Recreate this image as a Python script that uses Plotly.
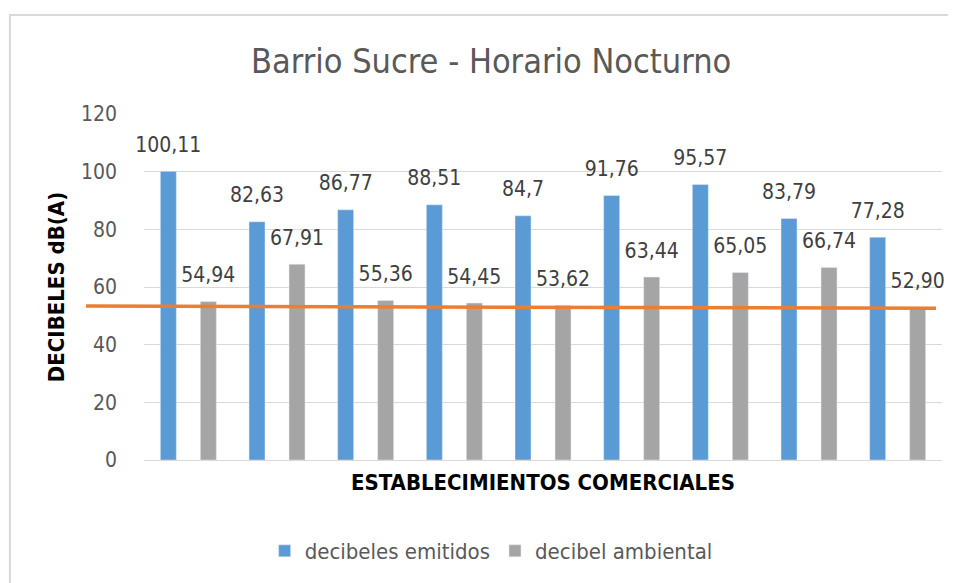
import plotly.graph_objects as go

categorias = ["1", "2", "3", "4", "5", "6", "7", "8", "9"]
emitidos = [100.11, 82.63, 86.77, 88.51, 84.7, 91.76, 95.57, 83.79, 77.28]
ambiental = [54.94, 67.91, 55.36, 54.45, 53.62, 63.44, 65.05, 66.74, 52.90]
emitidos_txt = ["100,11", "82,63", "86,77", "88,51", "84,7", "91,76", "95,57", "83,79", "77,28"]
ambiental_txt = ["54,94", "67,91", "55,36", "54,45", "53,62", "63,44", "65,05", "66,74", "52,90"]
linea_ref = [53.4, 52.6]
y_ticks = [0, 20, 40, 60, 80, 100, 120]

FONT = "DejaVu Sans Condensed, sans-serif"
BLUE = "#5B9BD5"
GRAY = "#A5A5A5"
ORANGE = "#ED7D31"

fig = go.Figure()
fig.add_trace(go.Bar(x=categorias, y=emitidos, name="decibeles emitidos",
                     marker=dict(color=BLUE), offsetgroup="a"))
fig.add_trace(go.Bar(x=categorias, y=ambiental, name="decibel ambiental",
                     marker=dict(color=GRAY), offsetgroup="b"))
# data labels
for vals, txt, og in [(emitidos, emitidos_txt, "a"), (ambiental, ambiental_txt, "b")]:
    fig.add_trace(go.Scatter(x=categorias, y=vals, text=txt, mode="markers+text",
                             textposition="top center", offsetgroup=og,
                             marker=dict(size=21, opacity=0, color="white"),
                             textfont=dict(family=FONT, size=21, color="#404040"),
                             showlegend=False, hoverinfo="skip", cliponaxis=False))

fig.update_layout(
    width=956, height=583,
    paper_bgcolor="white", plot_bgcolor="white",
    margin=dict(l=136, r=22, t=106, b=131, autoexpand=False),
    barmode="group", bargap=0.098, bargroupgap=0.6,
    scattermode="group", scattergap=0.098,
    font=dict(family=FONT, color="#595959"),
    title=dict(text="Barrio Sucre - Horario Nocturno", x=0.435, xanchor="center",
               xref="paper", y=0.909, yanchor="middle",
               font=dict(family=FONT, size=34, color="#595959")),
    showlegend=True,
    legend=dict(orientation="h", x=0.435, xanchor="center", y=-0.263, yanchor="middle",
                font=dict(family=FONT, size=22, color="#595959"),
                itemwidth=30, traceorder="normal"),
    xaxis=dict(showticklabels=False, showgrid=False, zeroline=False, showline=False,
               automargin=False,
               ticks="", title=dict(text="<b>ESTABLECIMIENTOS COMERCIALES</b>",
                                    font=dict(family=FONT, size=22, color="black"),
                                    standoff=14)),
    yaxis=dict(range=[0, 120], tickvals=y_ticks, showgrid=True, gridcolor="#D9D9D9",
               gridwidth=1, zeroline=True, zerolinecolor="#D9D9D9", zerolinewidth=1,
               automargin=True,
               ticks="", ticklabelstandoff=26,
               tickfont=dict(family=FONT, size=21, color="#595959"),
               title=dict(text="<b>DECIBELES dB(A)</b>",
                          font=dict(family=FONT, size=22, color="black"),
                          standoff=10)),
    shapes=[
        dict(type="line", xref="paper", yref="y", x0=-0.0727, x1=0.9925,
             y0=linea_ref[0], y1=linea_ref[1], line=dict(color=ORANGE, width=3.5),
             layer="above"),
        dict(type="rect", xref="paper", yref="paper", x0=-0.168, x1=1.05,
             y0=-0.45, y1=1.286, line=dict(color="#D9D9D9", width=2),
             fillcolor="rgba(0,0,0,0)", layer="below"),
    ],
)

fig.write_html("out.html")
